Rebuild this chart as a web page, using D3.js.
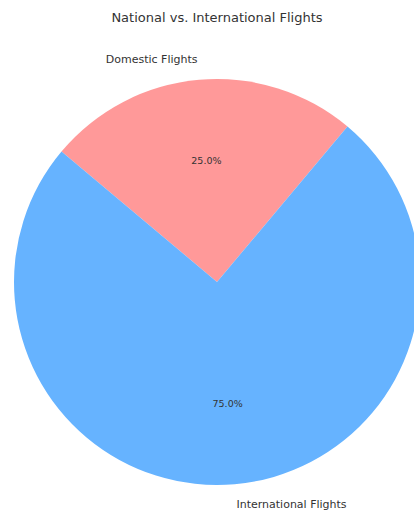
<!DOCTYPE html>
<html>
<head>
<meta charset="utf-8">
<script src="https://cdn.jsdelivr.net/npm/d3@7"></script>
<style>
html,body{margin:0;padding:0;background:#fff;}
svg{display:block;font-family:"DejaVu Sans",sans-serif;}
</style>
</head>
<body>
<svg id="chart" width="414" height="514"></svg>
<script>
const categories = ["Domestic Flights", "International Flights"];
const values = [25, 75];
const colors = ["#ff9999", "#66b3ff"];
const title = "National vs. International Flights";

const W = 414, H = 514;
const cx = 217, cy = 282, R = 203;
const svg = d3.select("#chart");

svg.append("text")
  .attr("x", cx).attr("y", 22)
  .attr("text-anchor", "middle")
  .attr("font-size", 13)
  .attr("fill", "#333")
  .text(title);

const data = categories.map((c, i) => ({cat: c, value: values[i], color: colors[i]}));
const deg = Math.PI / 180;
// matplotlib-like: counterclockwise starting at 50deg (math angle)
const start = (90 - 50) * deg;
const pie = d3.pie().value(d => d.value).sort(null)
  .startAngle(start).endAngle(start - 2 * Math.PI);
const arcs = pie(data);
const arc = d3.arc().innerRadius(0).outerRadius(R);

const g = svg.append("g").attr("transform", `translate(${cx},${cy})`);
g.selectAll("path").data(arcs).join("path")
  .attr("d", arc)
  .attr("fill", d => d.data.color);

const total = d3.sum(values);
function mid(d){ return (d.startAngle + d.endAngle) / 2; }

// percentage labels at 0.6 R
g.selectAll("text.pct").data(arcs).join("text")
  .attr("class", "pct")
  .attr("x", d => Math.sin(mid(d)) * R * 0.6)
  .attr("y", d => -Math.cos(mid(d)) * R * 0.6)
  .attr("dy", "0.35em")
  .attr("text-anchor", "middle")
  .attr("font-size", 9.5)
  .attr("fill", "#333")
  .text(d => (d.data.value / total * 100).toFixed(1) + "%");

// category labels at 1.1 R
g.selectAll("text.lab").data(arcs).join("text")
  .attr("class", "lab")
  .attr("x", d => Math.sin(mid(d)) * R * 1.1)
  .attr("y", d => -Math.cos(mid(d)) * R * 1.1)
  .attr("dy", "0.35em")
  .attr("text-anchor", d => Math.sin(mid(d)) < 0 ? "end" : "start")
  .attr("font-size", 11)
  .attr("fill", "#333")
  .text(d => d.data.cat);
</script>
</body>
</html>
